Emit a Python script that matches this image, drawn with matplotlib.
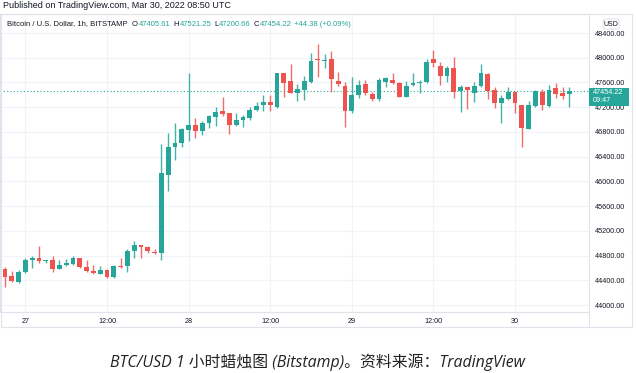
import matplotlib
matplotlib.use('Agg')
import matplotlib.pyplot as plt
from matplotlib.patches import Rectangle, FancyBboxPatch
from matplotlib.lines import Line2D
import numpy as np

# hourly candles, 26 Mar 21:00 -> 30 Mar 08:00 UTC
opens = [44582, 44469, 44367, 44534, 44728, 44755, 44712, 44728, 44582, 44641,
         44663, 44755, 44610, 44550, 44502, 44566, 44448, 44636, 44636, 44869,
         44976, 44933, 44858, 44846, 46103, 46561, 46626, 46832, 46912, 46820,
         46940, 47047, 47139, 47101, 46912, 46993, 47030, 47155, 47230, 47280,
         47209, 47749, 47624, 47435, 47479, 47613, 47980, 47953, 47975, 47630,
         47543, 47139, 47398, 47576, 47414, 47333, 47613, 47640, 47587, 47371,
         47560, 47587, 47613, 47975, 47867, 47710, 47829, 47462, 47522, 47435,
         47543, 47732, 47479, 47263, 47333, 47441, 47236, 46848, 47220, 47441,
         47220, 47506, 47425, 47405.61]
highs = [44610, 44550, 44563, 44760, 44793, 44955, 44735, 44793, 44728, 44745,
         44790, 44765, 44720, 44650, 44630, 44575, 44640, 44760, 44905, 45030,
         44976, 44955, 44905, 46605, 46788, 46940, 46870, 47760, 47020, 46970,
         47075, 47200, 47360, 47112, 47101, 47075, 47210, 47280, 47390, 47395,
         47760, 47755, 47900, 47570, 47700, 48072, 48223, 48060, 48115, 47775,
         47613, 47694, 47640, 47640, 47447, 47673, 47694, 47750, 47600, 47630,
         47760, 47640, 47980, 48126, 47927, 47872, 48017, 47560, 47533, 47613,
         47900, 47749, 47522, 47398, 47533, 47463, 47236, 47306, 47479, 47490,
         47560, 47587, 47522, 47521.25]
lows = [44286, 44377, 44350, 44518, 44604, 44675, 44680, 44534, 44575, 44630,
        44655, 44600, 44530, 44500, 44496, 44440, 44440, 44605, 44530, 44760,
        44760, 44840, 44825, 44728, 45850, 46346, 46551, 46653, 46708, 46750,
        46870, 46900, 47058, 46767, 46896, 46880, 46993, 47140, 47140, 47140,
        47180, 47370, 47425, 47295, 47310, 47590, 47694, 47840, 47451, 47543,
        46885, 47106, 47355, 47398, 47300, 47300, 47522, 47576, 47365, 47365,
        47543, 47435, 47597, 47845, 47560, 47613, 47355, 47128, 47171, 47290,
        47533, 47333, 47193, 46940, 47317, 47101, 46561, 46848, 47204, 47155,
        47209, 47355, 47333, 47200.66]
closes = [44458, 44388, 44529, 44728, 44760, 44712, 44728, 44582, 44647, 44684,
          44755, 44610, 44555, 44523, 44566, 44448, 44630, 44620, 44874, 44970,
          44943, 44874, 44836, 46131, 46561, 46616, 46848, 46912, 46815, 46950,
          47058, 47128, 47085, 46912, 46993, 47047, 47155, 47220, 47280, 47230,
          47749, 47587, 47435, 47495, 47624, 47948, 47964, 47964, 47651, 47570,
          47139, 47398, 47560, 47425, 47333, 47640, 47667, 47587, 47371, 47543,
          47597, 47613, 47937, 47921, 47710, 47829, 47451, 47522, 47479, 47543,
          47749, 47462, 47274, 47354, 47441, 47263, 46870, 47236, 47463, 47236,
          47479, 47414, 47387, 47454.22]

tick_pos = [3, 15, 27, 39, 51, 63, 75]
tick_labels = ['27', '12:00', '28', '12:00', '29', '12:00', '30']
price_ticks = list(range(44000, 48401, 400))
last_price = 47454.22

UP = '#26a69a'
DOWN = '#ef5350'
GRID = '#f0f3fa'
BORDER = '#e0e3eb'
TXT = '#131722'

plt.rcParams['font.family'] = ['Liberation Sans', 'DejaVu Sans']

W, H = 636, 373
fig = plt.figure(figsize=(W / 100, H / 100), dpi=100)

def fx(x):
    return x / W

def fy(y):
    return 1 - y / H

# plot area in pixels: x 0..589, y 14..312
ax = fig.add_axes([0, fy(312), fx(589), (312 - 14) / H])
ppx = 4400 / 272.0
ax.set_ylim(44000 - 7 * ppx, 48400 + 19 * ppx)
ax.set_xlim(-5 / 6.8, 584 / 6.8)

x = np.arange(len(opens))
o = np.array(opens, float)
c = np.array(closes, float)
hi = np.array(highs, float)
lo = np.array(lows, float)
cols = [UP if cc >= oo else DOWN for oo, cc in zip(o, c)]

ax.vlines(x, lo, hi, colors=cols, linewidth=1.0, alpha=0.85, zorder=3)
bottoms = np.minimum(o, c)
heights = np.maximum(np.abs(c - o), 12)
ax.bar(x, heights, width=0.7, bottom=bottoms, color=cols, linewidth=0, zorder=4)

ax.axhline(last_price, color=UP, linestyle=(0, (1, 2)), linewidth=0.8, zorder=2)

for p in price_ticks:
    ax.axhline(p, color=GRID, linewidth=0.8, zorder=0)
for t in tick_pos:
    ax.axvline(t, color=GRID, linewidth=0.8, zorder=0)

ax.yaxis.tick_right()
ax.set_yticks(price_ticks)
ax.set_yticklabels(['%.2f' % p for p in price_ticks])
ax.tick_params(axis='y', length=0, pad=4, labelsize=5.2, labelcolor=TXT)
ax.set_xticks(tick_pos)
ax.set_xticklabels(tick_labels)
ax.tick_params(axis='x', length=0, pad=4, labelsize=5.2, labelcolor=TXT)
for s in ax.spines.values():
    s.set_color(BORDER)
    s.set_linewidth(0.8)

# outer frame of the chart widget
fig.add_artist(Line2D([fx(0.5), fx(632)], [fy(14), fy(14)], color=BORDER, lw=0.8))
fig.add_artist(Line2D([fx(0.5), fx(632)], [fy(327), fy(327)], color=BORDER, lw=0.8))
fig.add_artist(Line2D([fx(632), fx(632)], [fy(14), fy(327)], color=BORDER, lw=0.8))
fig.add_artist(Line2D([fx(589), fx(589)], [fy(312), fy(327)], color=BORDER, lw=0.8))
fig.add_artist(Line2D([fx(0.5), fx(0.5)], [fy(14), fy(327)], color=BORDER, lw=0.8))

fig.text(fx(3), fy(6), 'Published on TradingView.com, Mar 30, 2022 08:50 UTC',
         fontsize=6.45, color=TXT, va='center', ha='left')

# legend line, laid out piece by piece
renderer = fig.canvas.get_renderer()
hdr = [('Bitcoin / U.S. Dollar, 1h, BITSTAMP', TXT, 4.5), ('O', TXT, 0.5), ('47405.61', UP, 3.0),
       ('H', TXT, 0.5), ('47521.25', UP, 3.0), ('L', TXT, 0.5), ('47200.66', UP, 3.0),
       ('C', TXT, 0.5), ('47454.22', UP, 3.0), ('+44.38 (+0.09%)', UP, 0)]
cur = 7.0
for s, col, gap in hdr:
    t = fig.text(fx(cur), fy(24), s, fontsize=5.5, color=col, va='center', ha='left')
    bb = t.get_window_extent(renderer)
    cur += bb.width + gap

# USD badge
fig.add_artist(FancyBboxPatch((fx(603), fy(29)), fx(16), (10) / H,
                              boxstyle='round,pad=0,rounding_size=0.004',
                              facecolor='white', edgecolor=BORDER, lw=0.8))
fig.text(fx(611), fy(24), 'USD', fontsize=5, color=TXT, ha='center', va='center')

# last price label
fig.add_artist(Rectangle((fx(589), fy(106)), fx(40), 18 / H, facecolor=UP, edgecolor='none'))
fig.text(fx(593), fy(92), '47454.22', fontsize=5.2, color='white', ha='left', va='center')
fig.text(fx(593), fy(101), '09:47', fontsize=5.2, color='white', ha='left', va='center')

fig.text(0.5, fy(362), 'BTC/USD 1 小时蜡烛图 (Bitstamp)。资料来源：TradingView',
         fontsize=11.4, color='#222222', ha='center', va='center', style='italic',
         family=['Open Sans', 'Noto Sans CJK SC'])

fig.savefig('out.png', dpi=100)
